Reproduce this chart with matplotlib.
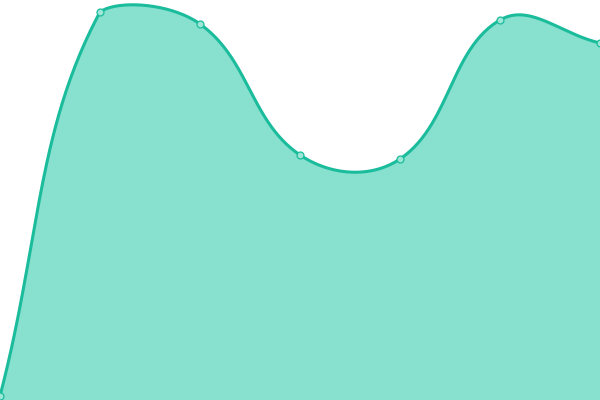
import numpy as np
import matplotlib
matplotlib.use("Agg")
import matplotlib.pyplot as plt

# data
x_values = [0, 100, 200, 300, 400, 500, 600]
y_values = [4, 388, 376, 245, 241, 380, 357]

LINE = "#1abc9c"
FILL = "#88e0cf"
TENSION = 0.4

fig = plt.figure(figsize=(6, 4), dpi=100)
ax = fig.add_axes([0, 0, 1, 1])
ax.set_xlim(0, 600)
ax.set_ylim(0, 400)
ax.axis("off")

pts = np.array(list(zip(x_values, y_values)), dtype=float)
n = len(pts)
xmin, xmax = ax.get_xlim()
ymin, ymax = ax.get_ylim()

# Chart.js-like spline control points
cp_prev = np.zeros_like(pts)
cp_next = np.zeros_like(pts)
for i in range(n):
    cur = pts[i]
    prev = pts[i - 1] if i > 0 else cur
    nxt = pts[i + 1] if i < n - 1 else cur
    d01 = np.hypot(*(cur - prev))
    d12 = np.hypot(*(nxt - cur))
    tot = d01 + d12
    s01 = d01 / tot if tot else 0
    s12 = d12 / tot if tot else 0
    fa = TENSION * s01
    fb = TENSION * s12
    cp_prev[i] = cur - fa * (nxt - prev)
    cp_next[i] = cur + fb * (nxt - prev)

def cap(p):
    return np.array([min(max(p[0], xmin), xmax), min(max(p[1], ymin), ymax)])

cp_prev = np.array([cap(p) for p in cp_prev])
cp_next = np.array([cap(p) for p in cp_next])

t = np.linspace(0, 1, 60)[:, None]
curve = []
for i in range(n - 1):
    p0, p1, p2, p3 = pts[i], cp_next[i], cp_prev[i + 1], pts[i + 1]
    seg = ((1 - t) ** 3) * p0 + 3 * ((1 - t) ** 2) * t * p1 + 3 * (1 - t) * t ** 2 * p2 + t ** 3 * p3
    curve.append(seg if i == 0 else seg[1:])
curve = np.vstack(curve)

ax.fill_between(curve[:, 0], curve[:, 1], 0, color=FILL, linewidth=0, zorder=1)
ax.plot(curve[:, 0], curve[:, 1], color=LINE, linewidth=2.2, zorder=2,
        solid_capstyle="round", solid_joinstyle="round")
ax.plot(x_values, y_values, linestyle="none", marker="o", markersize=5,
        markerfacecolor="#9ee6d7", markeredgecolor=LINE, markeredgewidth=0.9,
        zorder=3, clip_on=False)

fig.savefig("out.png", dpi=100)
